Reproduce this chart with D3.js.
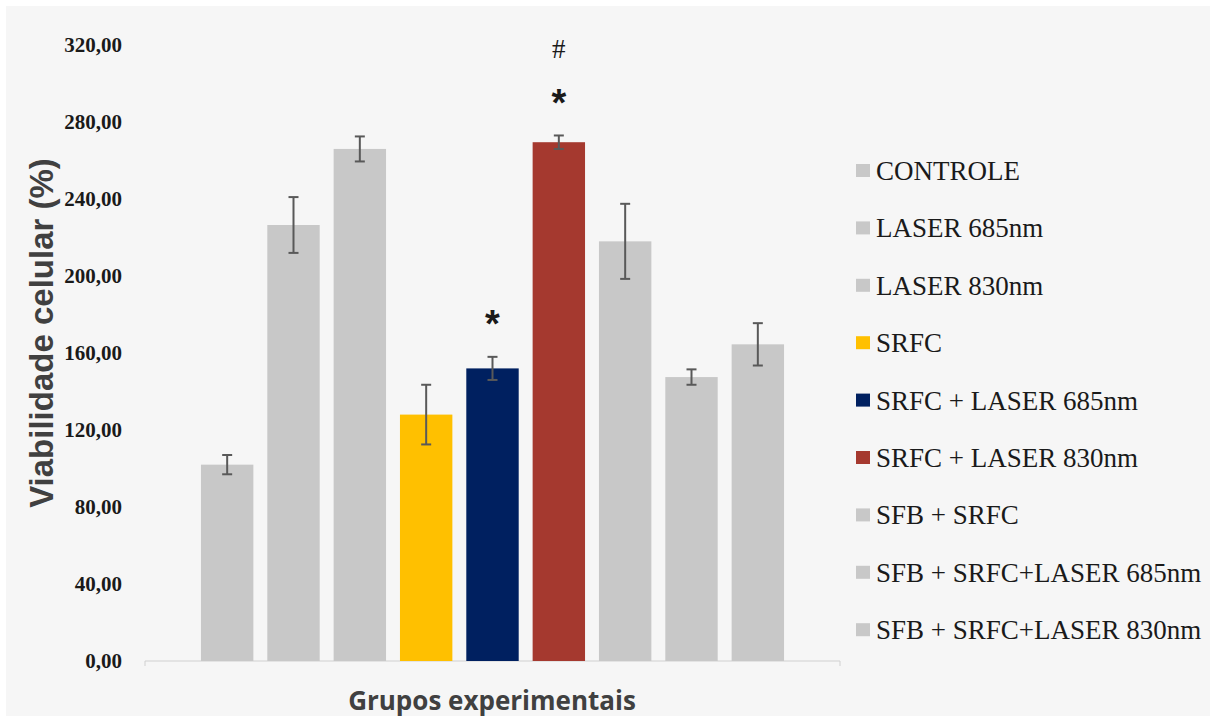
<!DOCTYPE html>
<html>
<head>
<meta charset="utf-8">
<script src="https://cdn.jsdelivr.net/npm/d3@7"></script>
<style>
  body { margin: 0; background: #ffffff; }
</style>
</head>
<body>
<script>
    // data
    var categories = ["CONTROLE", "LASER 685nm", "LASER 830nm", "SRFC", "SRFC + LASER 685nm",
        "SRFC + LASER 830nm", "SFB + SRFC", "SFB + SRFC+LASER 685nm", "SFB + SRFC+LASER 830nm"];
    var values = [102, 226.5, 266, 128, 152, 269.5, 218, 147.5, 164.5];
    var errors = [5, 14.5, 6.5, 15.5, 6, 3.5, 19.5, 4, 11];
    var colors = ["#c8c8c8", "#c8c8c8", "#c8c8c8", "#ffc000", "#002060", "#a5392f", "#c8c8c8", "#c8c8c8", "#c8c8c8"];
    var yTicks = [0, 40, 80, 120, 160, 200, 240, 280, 320];
    // significance marks: category, symbol, value height where the symbol sits
    var marks = [
        {cat: "SRFC + LASER 685nm", sym: "*", at: 181},
        {cat: "SRFC + LASER 830nm", sym: "*", at: 296},
        {cat: "SRFC + LASER 830nm", sym: "#", at: 318}
    ];

    var width = 1216, height = 722;
    var plotLeft = 145, plotRight = 840, plotTop = 45, plotBottom = 661;

    var svg = d3.select("body").append("svg")
        .attr("width", width).attr("height", height);

    // background panel
    svg.append("rect")
        .attr("x", 6).attr("y", 6)
        .attr("width", width - 12).attr("height", height - 12)
        .style("fill", "#f6f6f6");

    /* scales */
    var y = d3.scaleLinear().domain([0, 320]).range([plotBottom, plotTop]);
    var x = d3.scaleBand().domain(categories)
        .range([plotLeft + 49, plotRight - 49])
        .paddingInner(0.21).paddingOuter(0.105);

    // y tick labels (no axis line in the original)
    var fmt = function(d){ return d3.format(".2f")(d).replace(".", ","); };
    var yAxis = svg.append("g")
        .attr("transform", "translate(" + (plotLeft - 23) + ",0)")
        .call(d3.axisLeft(y).tickValues(yTicks).tickFormat(fmt).tickSize(0).tickPadding(0));
    yAxis.select(".domain").remove();
    yAxis.selectAll("text")
        .style("font-family", "'Liberation Serif', serif")
        .style("font-weight", "bold")
        .style("font-size", "21px")
        .style("fill", "#1a1a1a");

    // x baseline with small end ticks
    svg.append("path")
        .attr("d", "M" + plotLeft + "," + (plotBottom + 5) + "V" + plotBottom + "H" + plotRight + "V" + (plotBottom + 5))
        .style("fill", "none")
        .style("stroke", "#d0d0d0")
        .style("stroke-width", 1);

    // bars
    svg.append("g").selectAll("rect")
        .data(categories)
        .enter().append("rect")
        .attr("x", function(d){ return x(d); })
        .attr("y", function(d, i){ return y(values[i]); })
        .attr("width", x.bandwidth())
        .attr("height", function(d, i){ return y(0) - y(values[i]); })
        .style("fill", function(d, i){ return colors[i]; });

    // error bars
    var eb = svg.append("g").selectAll("g")
        .data(categories)
        .enter().append("g")
        .style("stroke", "#595959")
        .style("stroke-width", 2);
    eb.append("line")
        .attr("x1", function(d){ return x(d) + x.bandwidth() / 2; })
        .attr("x2", function(d){ return x(d) + x.bandwidth() / 2; })
        .attr("y1", function(d, i){ return y(values[i] + errors[i]); })
        .attr("y2", function(d, i){ return y(values[i] - errors[i]); });
    [1, -1].forEach(function(s){
        eb.append("line")
            .attr("x1", function(d){ return x(d) + x.bandwidth() / 2 - 5; })
            .attr("x2", function(d){ return x(d) + x.bandwidth() / 2 + 5; })
            .attr("y1", function(d, i){ return y(values[i] + s * errors[i]); })
            .attr("y2", function(d, i){ return y(values[i] + s * errors[i]); });
    });

    // significance symbols
    svg.append("g").selectAll("text")
        .data(marks)
        .enter().append("text")
        .attr("x", function(d){ return x(d.cat) + x.bandwidth() / 2; })
        .attr("y", function(d){ return y(d.at); })
        .attr("text-anchor", "middle")
        .attr("dominant-baseline", "central")
        .style("font-family", function(d){ return d.sym == "*" ? "'Liberation Sans', sans-serif" : "'Liberation Serif', serif"; })
        .style("font-weight", function(d){ return d.sym == "*" ? "bold" : "normal"; })
        .style("font-size", function(d){ return d.sym == "*" ? "38px" : "27px"; })
        .attr("dy", function(d){ return d.sym == "*" ? "0.3em" : "0"; })
        .style("fill", "#1a1a1a")
        .text(function(d){ return d.sym; });

    // axis titles
    svg.append("text")
        .attr("transform", "translate(53,333) rotate(-90)")
        .attr("text-anchor", "middle")
        .style("font-family", "'Liberation Sans', sans-serif")
        .style("font-weight", "bold")
        .style("font-size", "33px")
        .style("fill", "#404040")
        .text("Viabilidade celular (%)");

    svg.append("text")
        .attr("x", 492)
        .attr("y", 710)
        .attr("text-anchor", "middle")
        .style("font-family", "'Open Sans', sans-serif")
        .style("font-weight", "bold")
        .style("font-size", "26px")
        .style("fill", "#404040")
        .text("Grupos experimentais");

    // legend
    var legend = svg.append("g").selectAll("g")
        .data(categories)
        .enter().append("g")
        .attr("transform", function(d, i){ return "translate(856," + (171 + i * 57.4) + ")"; });
    legend.append("rect")
        .attr("x", 0).attr("y", -7)
        .attr("width", 14).attr("height", 13)
        .style("fill", function(d, i){ return colors[i]; });
    legend.append("text")
        .attr("x", 20)
        .attr("y", 9)
        .style("font-family", "'Liberation Serif', serif")
        .style("font-size", "27px")
        .style("fill", "#1a1a1a")
        .text(function(d){ return d; });
</script>
</body>
</html>
